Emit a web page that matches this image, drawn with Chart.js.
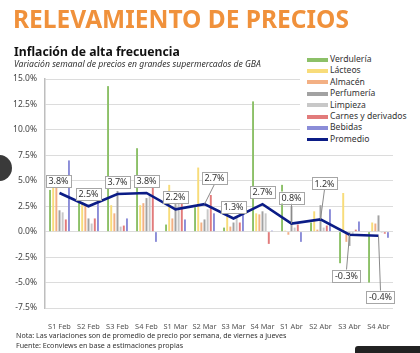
<!DOCTYPE html>
<html>
<head>
<meta charset="utf-8">
<script src="https://cdn.jsdelivr.net/npm/chart.js@4.4.1/dist/chart.umd.min.js"></script>
<style>
    body { margin: 0; width: 420px; height: 353px; background: #fff; overflow: hidden; position: relative; font-family: "Noto Sans", sans-serif; }
    #chart { position: absolute; left: 0; top: 0; }
    .txt { position: absolute; white-space: nowrap; z-index: 2; }
    #title { left: 13px; top: 2px; font-size: 24.5px; font-weight: 700; color: #F0913B; }
    #sub1 { left: 14px; top: 43px; font-size: 12.2px; font-weight: 700; color: #111; }
    #sub2 { left: 14px; top: 58px; font-size: 8.6px; font-style: italic; color: #333; }
    #notes { left: 16px; top: 331px; font-size: 7.1px; line-height: 9.5px; color: #333; }
    #legend { position: absolute; left: 300px; top: 52px; width: 120px; height: 96px; background: #fff; z-index: 2; }
    .row { position: absolute; left: 7px; height: 12px; font-size: 8.6px; color: #333; line-height: 12px; }
    .row i { display: inline-block; width: 21px; vertical-align: middle; margin-right: 2px; }
    #dot { position: absolute; left: -14px; top: 155px; width: 26px; height: 26px; border-radius: 50%; background: #3a3a3a; z-index: 3; }
    #bar { position: absolute; left: 355px; top: 346px; width: 70px; height: 12px; border-radius: 3px; background: #222; z-index: 3; }
</style>
</head>
<body>
<div class="txt" id="title">RELEVAMIENTO DE PRECIOS</div>
<div class="txt" id="sub1">Inflación de alta frecuencia</div>
<div class="txt" id="sub2">Variación semanal de precios en grandes supermercados de GBA</div>
<div id="legend"></div>
<canvas id="chart" width="420" height="353"></canvas>
<div class="txt" id="notes">Nota: Las variaciones son de promedio de precio por semana, de viernes a jueves<br>Fuente: Econviews en base a estimaciones propias</div>
<div id="dot"></div>
<div id="bar"></div>
<script>
const WEEKS = ['S1 Feb','S2 Feb','S3 Feb','S4 Feb','S1 Mar','S2 Mar','S3 Mar','S4 Mar','S1 Abr','S2 Abr','S3 Abr','S4 Abr'];

const VERDULERIA = [4.1, 3.0, 14.3, 8.2, 0.7, 2.4, 0.4, 12.8, 4.6, 0.9, -3.1, -5.0];
const LACTEOS    = [4.4, 2.9, 2.6, 2.6, 4.6, 6.3, 3.0, 1.8, 0.1, 2.0, 3.8, 0.9];
const ALMACEN    = [4.4, 2.6, 1.8, 2.8, 1.3, 0.9, 0.5, 1.7, -0.3, 0.2, -1.0, 0.8];
const PERFUMERIA = [2.1, 1.3, 4.0, 3.3, 2.8, 1.2, 0.9, 2.0, 2.5, 2.6, -1.4, 1.6];
const LIMPIEZA   = [1.9, 0.8, 0.5, 3.7, 2.8, 2.2, 1.4, 1.8, 0.4, 0.4, -0.3, -0.1];
const CARNES     = [1.2, 1.3, 0.6, 4.3, 2.8, 3.6, 0.9, -1.2, 0.7, 0.6, 0.2, -0.2];
const BEBIDAS    = [7.0, 3.0, 1.3, -1.0, 1.2, 1.8, 2.5, 0.1, -1.0, 2.2, 1.0, -0.6];
const PROMEDIO   = [3.8, 2.5, 3.7, 3.8, 2.2, 2.7, 1.3, 2.7, 0.8, 1.2, -0.3, -0.4];

const Y_TICKS = [-7.5, -5, -2.5, 0, 2.5, 5, 7.5, 10, 12.5, 15];

const SERIES = [
    { name: 'Verdulería', data: VERDULERIA, color: '#8CC068' },
    { name: 'Lácteos', data: LACTEOS, color: '#F8DC7A' },
    { name: 'Almacén', data: ALMACEN, color: '#F3B084' },
    { name: 'Perfumería', data: PERFUMERIA, color: '#A2A2A2' },
    { name: 'Limpieza', data: LIMPIEZA, color: '#C8C8C8' },
    { name: 'Carnes y derivados', data: CARNES, color: '#E27B7B' },
    { name: 'Bebidas', data: BEBIDAS, color: '#8B8DD8' },
];
const LINE_COLOR = '#0B1C86';

// label box offsets from each Promedio point (layout only)
const LABEL_DY = [-12, -12, -12, -12, -12, -26, -11, -12, -26, -36, 41, 61];
const LABEL_DX = [-1, 0, 0, 0, 0, 10, 0, 0, 0, 4, -3, 2];

// legend
const legend = document.getElementById('legend');
SERIES.concat([{ name: 'Promedio', color: LINE_COLOR, line: true }]).forEach((s, i) => {
    const row = document.createElement('div');
    row.className = 'row';
    row.style.top = (i * 11.4 + 1) + 'px';
    row.innerHTML = `<i style="height:${s.line ? 2.5 : 4}px;background:${s.color}"></i>${s.name}`;
    legend.appendChild(row);
});

const labelBoxes = {
    id: 'labelBoxes',
    afterDatasetsDraw(chart) {
        const ctx = chart.ctx;
        const meta = chart.getDatasetMeta(SERIES.length);
        ctx.save();
        ctx.font = '9px "Noto Sans"';
        meta.data.forEach((pt, i) => {
            const txt = PROMEDIO[i].toFixed(1) + '%';
            const x = pt.x + LABEL_DX[i], y = pt.y + LABEL_DY[i];
            const w = ctx.measureText(txt).width + 5, h = 12;
            if (Math.abs(LABEL_DY[i]) > 20) {
                ctx.strokeStyle = '#8a8a8a';
                ctx.lineWidth = 1;
                ctx.beginPath();
                ctx.moveTo(pt.x, pt.y);
                ctx.lineTo(x, y + (LABEL_DY[i] < 0 ? h / 2 : -h / 2));
                ctx.stroke();
            }
            ctx.fillStyle = '#fff';
            ctx.fillRect(x - w / 2, y - h / 2, w, h);
            ctx.strokeStyle = '#A6A6A6';
            ctx.lineWidth = 1;
            ctx.strokeRect(Math.round(x - w / 2) + 0.5, Math.round(y - h / 2) + 0.5, Math.round(w), h);
            ctx.fillStyle = '#333';
            ctx.textAlign = 'center';
            ctx.textBaseline = 'middle';
            ctx.fillText(txt, x, y + 0.5);
        });
        ctx.restore();
    }
};

new Chart(document.getElementById('chart').getContext('2d'), {
    type: 'bar',
    data: {
        labels: WEEKS,
        datasets: SERIES.map(s => ({
            label: s.name,
            data: s.data,
            backgroundColor: s.color,
            borderWidth: 0,
            categoryPercentage: 0.76,
            barPercentage: 0.62,
            order: 1,
        })).concat([{
            type: 'line',
            label: 'Promedio',
            data: PROMEDIO,
            borderColor: LINE_COLOR,
            borderWidth: 2.6,
            pointRadius: 0,
            tension: 0,
            order: 0,
        }]),
    },
    options: {
        responsive: false,
        animation: false,
        layout: { padding: { top: 79, right: 27, left: 0, bottom: 0 } },
        plugins: { legend: { display: false }, tooltip: { enabled: false } },
        scales: {
            x: {
                grid: { display: false },
                border: { display: false },
                ticks: { color: '#555', font: { size: 7.4, family: 'Noto Sans' }, padding: 6, maxRotation: 0, autoSkip: false },
                afterFit: s => { s.height = 45; },
            },
            y: {
                min: -7.5, max: 15,
                afterBuildTicks: s => { s.ticks = Y_TICKS.map(v => ({ value: v })); },
                grid: { color: '#DCDCDC', drawTicks: false },
                border: { color: '#BEBEBE', width: 1.5 },
                ticks: { color: '#444', font: { size: 8.5, family: 'Noto Sans' }, padding: 8, callback: v => v.toFixed(1) + '%' },
                afterFit: s => { s.width = 45; },
            },
        },
    },
    plugins: [labelBoxes],
});
</script>
</body>
</html>
